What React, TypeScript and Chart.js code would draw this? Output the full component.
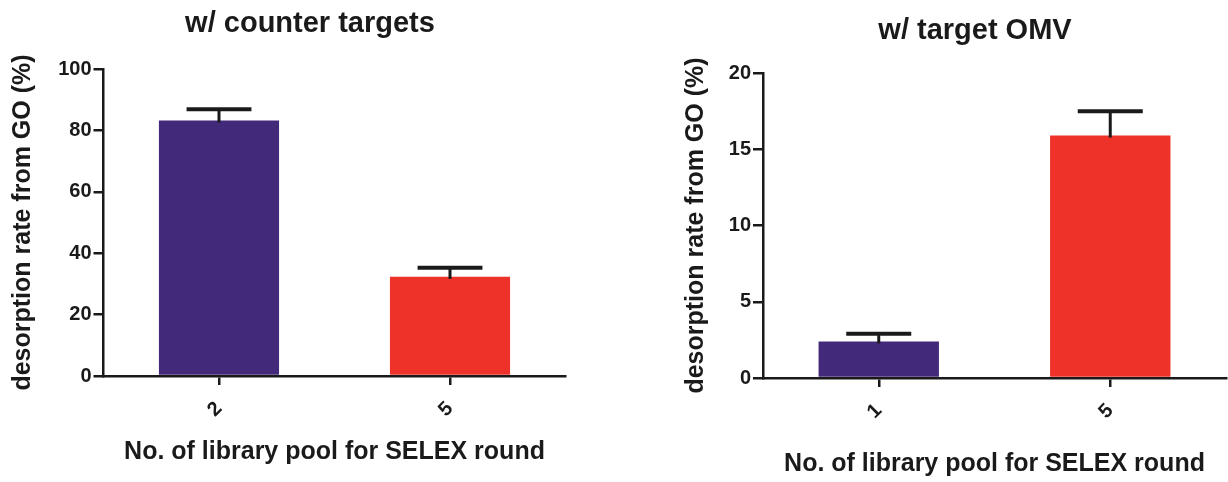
import React, { useEffect, useRef } from "react";
import { Chart, registerables } from "chart.js";

Chart.register(...registerables);

// Left panel
const leftTitle = "w/ counter targets";
const leftCategories = ["2", "5"];
const leftValues = [83.2, 32.3];
const leftErrors = [3.7, 3.0];
const leftTicks = { min: 0, max: 100, step: 20 };

// Right panel
const rightTitle = "w/ target OMV";
const rightCategories = ["1", "5"];
const rightValues = [2.4, 15.9];
const rightErrors = [0.5, 1.6];
const rightTicks = { min: 0, max: 20, step: 5 };

const barColors = ["#43297a", "#ee3129"];
const yTitle = "desorption rate from GO (%)";
const xTitle = "No. of library pool for SELEX round";
const FONT = "'Liberation Sans', Arial, sans-serif";
const INK = "#1a1a1a";

const errorBarPlugin = {
  id: "errorBars",
  afterDatasetsDraw(chart: any) {
    const errs: number[] = chart.options.plugins.errorBars?.errors || [];
    const meta = chart.getDatasetMeta(0);
    const yScale = chart.scales.y;
    const ds = chart.data.datasets[0];
    const ctx = chart.ctx;
    ctx.save();
    ctx.strokeStyle = INK;
    meta.data.forEach((bar: any, i: number) => {
      const v = ds.data[i] as number;
      const e = errs[i] || 0;
      const yTop = yScale.getPixelForValue(v) + 2;
      const yCap = yScale.getPixelForValue(v + e);
      const half = bar.width * 0.27;
      ctx.beginPath();
      ctx.lineWidth = 3;
      ctx.moveTo(bar.x, yTop);
      ctx.lineTo(bar.x, yCap);
      ctx.stroke();
      ctx.beginPath();
      ctx.lineWidth = 4;
      ctx.moveTo(bar.x - half, yCap);
      ctx.lineTo(bar.x + half, yCap);
      ctx.stroke();
    });
    ctx.restore();
  },
};

type Layout = {
  pad: any;
  titlePad: any;
  yWidth: number;
  yTitlePadTop: number;
  xHeight: number;
  xTitlePadBottom: number;
};

function makeConfig(
  title: string,
  cats: string[],
  vals: number[],
  errs: number[],
  ticks: { min: number; max: number; step: number },
  lay: Layout
): any {
  return {
    type: "bar",
    data: {
      labels: cats,
      datasets: [
        {
          data: vals,
          backgroundColor: barColors,
          borderWidth: 0,
          barPercentage: 1,
          categoryPercentage: 0.52,
        },
      ],
    },
    options: {
      animation: false,
      responsive: false,
      maintainAspectRatio: false,
      layout: { padding: lay.pad },
      plugins: {
        legend: { display: false },
        tooltip: { enabled: false },
        title: {
          display: true,
          text: title,
          color: INK,
          font: { family: FONT, size: 29, weight: "bold" },
          padding: lay.titlePad,
        },
        errorBars: { errors: errs },
      },
      scales: {
        x: {
          afterFit: (s: any) => {
            s.height = lay.xHeight;
          },
          grid: {
            display: true,
            offset: false,
            drawOnChartArea: false,
            drawTicks: true,
            tickLength: 9,
            color: INK,
            lineWidth: 2.5,
          },
          border: { display: true, color: INK, width: 2.5 },
          ticks: {
            color: INK,
            font: { family: FONT, size: 20, weight: "bold" },
            minRotation: 45,
            maxRotation: 45,
            padding: 12,
          },
          title: {
            display: true,
            text: xTitle,
            color: INK,
            font: { family: FONT, size: 25, weight: "bold" },
            padding: { top: 0, bottom: lay.xTitlePadBottom },
          },
        },
        y: {
          min: ticks.min,
          max: ticks.max,
          afterFit: (s: any) => {
            s.width = lay.yWidth;
          },
          grid: {
            display: true,
            drawOnChartArea: false,
            drawTicks: true,
            tickLength: 10,
            color: INK,
            lineWidth: 2.5,
          },
          border: { display: true, color: INK, width: 2.5 },
          ticks: {
            stepSize: ticks.step,
            color: INK,
            font: { family: FONT, size: 20, weight: "bold" },
            padding: 2,
          },
          title: {
            display: true,
            text: yTitle,
            color: INK,
            font: { family: FONT, size: 25, weight: "bold" },
            padding: { top: lay.yTitlePadTop, bottom: 0 },
          },
        },
      },
    },
    plugins: [errorBarPlugin],
  };
}

function Panel(props: { left: number; width: number; config: any }) {
  const ref = useRef<HTMLCanvasElement | null>(null);
  useEffect(() => {
    if (!ref.current) return;
    const chart = new Chart(ref.current, props.config);
    return () => chart.destroy();
  }, []);
  return (
    <canvas
      ref={ref}
      width={props.width}
      height={482}
      style={{ position: "absolute", left: props.left, top: 0, width: props.width, height: 482 }}
    />
  );
}

export default function App() {
  useEffect(() => {
    document.body.style.margin = "0";
  }, []);
  const leftCfg = makeConfig(leftTitle, leftCategories, leftValues, leftErrors, leftTicks, {
    pad: { left: 54.5, right: 14.5, top: 0, bottom: 0 },
    titlePad: { top: 6.6, bottom: 27.6 },
    yWidth: 49,
    yTitlePadTop: -46.5,
    xHeight: 106,
    xTitlePadBottom: 15,
  });
  const rightCfg = makeConfig(rightTitle, rightCategories, rightValues, rightErrors, rightTicks, {
    pad: { left: 51, right: 2, top: 0, bottom: 0 },
    titlePad: { top: 13.6, bottom: 24.6 },
    yWidth: 39,
    yTitlePadTop: -43,
    xHeight: 104,
    xTitlePadBottom: 3,
  });
  return (
    <div style={{ position: "relative", width: 1228, height: 482, background: "#fff", overflow: "hidden" }}>
      <Panel left={0} width={580} config={leftCfg} />
      <Panel left={673} width={555} config={rightCfg} />
    </div>
  );
}
